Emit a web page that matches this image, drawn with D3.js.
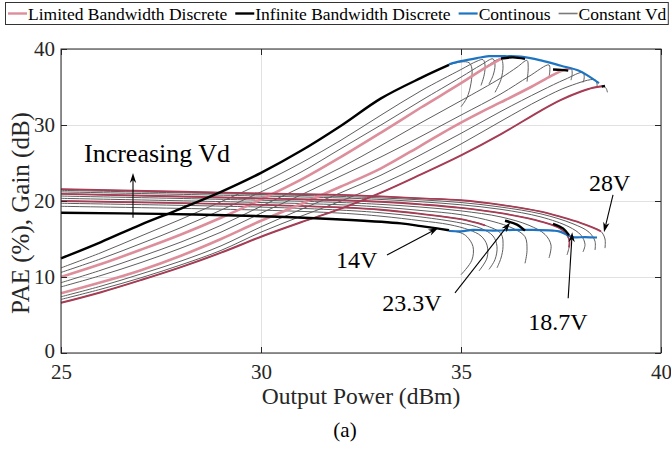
<!DOCTYPE html>
<html>
<head>
<meta charset="utf-8">
<script src="https://cdn.jsdelivr.net/npm/d3@7"></script>
<style>
  body { margin: 0; background: #fff; }
  svg { display: block; }
</style>
</head>
<body>
<div id="chart"></div>
<script>
// axis setup
const xDomain = [25, 40];
const yDomain = [0, 40];
const xTicks = [25, 30, 35, 40];
const yTicks = [0, 10, 20, 30, 40];

// PAE (%) vs output power (dBm), one curve per constant drain voltage
const pae14V = [[25,12.45],[26,14.6],[27,16.9],[28,19.0],[29,21.2],[30,23.7],[31,26.6],[32,29.9],[33,33.5],[34,36.2],[34.7,37.9],[35.0,38.3],[35.2,38.2],[35.27,37.5],[35.25,35.5],[35.15,33.6],[35.0,32.4]];
const pae15V6 = [[25,11.2],[26,13.2],[27,15.4],[28,17.6],[29,19.9],[30,22.3],[31,25.0],[32,28.0],[33,31.3],[34,34.5],[35,37.3],[35.4,38.4],[35.55,38.6],[35.6,37.9],[35.58,36.6],[35.5,35.2]];
const pae17V1 = [[25,10.6],[26,12.4],[27,14.4],[28,16.5],[29,18.8],[30,21.2],[31,23.8],[32,26.9],[33,30.0],[34,33.2],[35,36.3],[35.5,37.9],[35.8,38.7],[35.85,37.9],[35.8,36.5],[35.7,35.4]];
const pae18V7 = [[25,10.0],[26,11.7],[27,13.6],[28,15.6],[29,17.8],[30,20.2],[31,22.8],[32,25.8],[33,29.0],[34,32.3],[35,35.5],[35.5,37.2],[36.0,38.7],[36.05,37.8],[36.0,36.0],[35.85,34.3]];
const pae20V2 = [[25,9.25],[26,10.9],[27,12.7],[28,14.6],[29,16.8],[30,19.3],[31,21.8],[32,24.4],[33,27.3],[34,30.3],[35,33.2],[36,36.2],[36.4,37.6],[36.65,38.5],[36.68,37.6],[36.65,35.7]];
const pae21V8 = [[25,8.7],[26,10.2],[27,11.9],[28,13.8],[29,15.9],[30,18.4],[31,20.8],[32,23.3],[33,25.8],[34,28.5],[35,31.3],[36,34.1],[36.7,36.4],[37.2,37.9],[37.22,37.1],[37.2,36.3]];
const pae23V3 = [[25,7.85],[26,9.3],[27,10.9],[28,12.8],[29,15.0],[30,17.4],[31,19.6],[32,21.9],[33,24.3],[34,27.3],[34.75,29.6],[35.5,31.7],[36,33.0],[36.75,35.0],[37.2,36.3],[37.55,37.2],[37.75,37.45],[37.78,36.8],[37.75,35.9]];
const pae24V9 = [[25,7.4],[26,8.8],[27,10.4],[28,12.1],[29,14.1],[30,16.6],[31,18.9],[32,21.1],[33,23.4],[34,26.1],[35,28.9],[36,31.8],[37,34.5],[37.6,36.0],[38.05,36.9],[38.08,36.2],[38.05,35.6]];
const pae26V4 = [[25,7.05],[26,8.4],[27,9.9],[28,11.6],[29,13.5],[30,15.9],[31,18.0],[32,20.0],[33,22.2],[34,24.7],[35,27.5],[36,30.5],[37,33.4],[37.7,35.1],[38.35,35.95],[38.4,35.4],[38.4,35.0]];
const pae28V = [[25,6.6],[26,8.0],[27,9.6],[28,11.3],[29,13.2],[30,15.3],[31,17.2],[32,19.0],[33,21.1],[34,23.5],[35,26.0],[36,28.8],[37,31.9],[37.5,33.3],[38,34.4],[38.3,34.9],[38.55,35.1],[38.63,34.8],[38.66,34.3]];

// Gain (dB) vs output power (dBm), same drain voltages
const gain14V = [[25,18.45],[27.5,18.3],[30,18.0],[32.25,17.5],[33.5,17.05],[34,16.7],[34.4,16.4],[34.7,16.15],[35.0,15.8],[35.15,15.3],[35.3,14.0],[35.27,12.2],[35.0,10.3]];
const gain15V6 = [[25,19.3],[30,18.8],[32,18.4],[33,18.0],[34,17.4],[34.7,16.9],[35.2,16.2],[35.5,15.4],[35.65,14.2],[35.65,12.5],[35.45,10.8]];
const gain17V1 = [[25,19.7],[30,19.2],[32,18.8],[33,18.45],[34,17.9],[35,17.1],[35.5,16.4],[35.8,15.4],[35.9,14.0],[35.85,12.3],[35.7,11.0]];
const gain18V7 = [[25,20.0],[30,19.5],[32,19.15],[33,18.85],[34,18.3],[35,17.6],[35.6,16.8],[36.0,15.7],[36.05,14.0],[36.0,12.5],[35.9,11.2]];
const gain20V2 = [[25,20.35],[30,19.8],[32,19.5],[33,19.2],[34,18.75],[35,18.2],[35.8,17.3],[36.3,16.4],[36.6,15.3],[36.65,13.5],[36.6,11.8]];
const gain21V8 = [[25,20.65],[30,20.1],[32,19.8],[33,19.55],[34,19.2],[35,18.7],[36,17.9],[36.7,16.8],[37.1,15.6],[37.25,14.2],[37.2,12.5]];
const gain23V3 = [[25,20.95],[30,20.35],[32,20.1],[33,19.9],[34,19.55],[35,19.1],[36,18.4],[37,17.3],[37.5,16.3],[37.7,15.0],[37.7,13.9],[37.65,12.9]];
const gain24V9 = [[25,21.2],[30,20.65],[32,20.4],[33,20.2],[34,19.9],[35,19.5],[36,18.9],[37,17.9],[37.7,16.6],[38.0,15.5],[38.1,14.3],[38.05,13.3]];
const gain26V4 = [[25,21.4],[30,20.85],[32,20.6],[33,20.4],[34,20.15],[35,19.8],[36,19.2],[37,18.3],[37.8,17.0],[38.2,15.9],[38.35,14.7],[38.35,13.55]];
const gain28V = [[25,21.55],[30,21.0],[32,20.8],[33,20.6],[34,20.35],[35,20.1],[36,19.5],[37,18.6],[37.5,17.9],[38,17.1],[38.3,16.5],[38.5,16.0],[38.6,15.0],[38.6,13.8]];

const paeConstantVd = [pae14V, pae15V6, pae17V1, pae18V7, pae20V2, pae21V8, pae23V3, pae24V9, pae26V4, pae28V];
const gainConstantVd = [gain14V, gain15V6, gain17V1, gain18V7, gain20V2, gain21V8, gain23V3, gain24V9, gain26V4, gain28V];

// Limited bandwidth discrete supply levels: 18.7V, 23.3V, 28V (index into the lists above)
const limitedLevels = [3, 6, 9];

// Infinite bandwidth discrete: 14V branch plus two short pieces near saturation
const infinitePaeSegments = [
  [[36.0,38.75],[36.3,38.9],[36.6,38.7]],
  [[37.3,37.3],[37.5,37.25],[37.68,37.15]],
  [[38.52,35.05],[38.6,35.15]]
];
const infiniteGainSegments = [
  [[36.1,17.4],[36.4,16.9],[36.6,16.1]],
  [[37.3,17.0],[37.55,16.4],[37.7,15.5]]
];

// Continuous supply
const paeContinuous = [[34.7,38.0],[35.0,38.4],[35.4,38.8],[35.7,39.05],[36.1,39.05],[36.5,39.0],[37.0,38.5],[37.5,37.8],[37.95,37.15],[38.2,36.4],[38.45,35.5]];
const gainContinuous = [[34.7,16.05],[35.0,16.0],[35.3,16.2],[35.8,16.1],[36.3,16.2],[36.8,16.2],[37.3,16.1],[37.45,16.0],[37.8,15.25],[38.1,15.25],[38.4,15.2]];

// annotations: label, text anchor point, arrow from, arrow to (data units)
const voltLabels = ['14V', '23.3V', '18.7V', '28V'];
const voltTextAt = [[31.875, 11.2], [33.03, 5.5], [36.68, 3.0], [38.2, 21.3]];
const voltArrowFrom = [[33.15, 12.9], [34.85, 7.9], [37.68, 7.2], [38.8, 20.8]];
const voltArrowTo = [[34.43, 16.45], [36.23, 17.2], [37.78, 15.9], [38.575, 15.9]];

const legendLabels = ['Limited Bandwidth Discrete', 'Infinite Bandwidth Discrete', 'Continous', 'Constant Vd'];

const colors = {
  grey: '#5e5e5e',
  pink: '#dc8e9b',
  darkRed: '#a63d55',
  black: '#000000',
  blue: '#1d74c2',
  axis: '#262626',
  grid: '#e1e1e1'
};
const serif = "'Liberation Serif', 'Times New Roman', serif";

const W = 671, H = 449;
const margin = { top: 49, right: 10, bottom: 96, left: 61 };
const width = W - margin.left - margin.right;
const height = H - margin.top - margin.bottom;

const svg = d3.select('#chart').append('svg')
  .attr('width', W).attr('height', H)
  .attr('font-family', serif);
const g = svg.append('g').attr('transform', `translate(${margin.left},${margin.top})`);

const x = d3.scaleLinear().domain(xDomain).range([0, width]);
const y = d3.scaleLinear().domain(yDomain).range([height, 0]);

const line = d3.line()
  .x(d => x(d[0]))
  .y(d => y(d[1]))
  .curve(d3.curveCatmullRom.alpha(0.5));

// grid
g.append('g')
  .call(d3.axisLeft(y).tickValues(yTicks).tickSize(-width).tickFormat(''))
  .call(a => a.select('.domain').remove())
  .selectAll('line').attr('stroke', colors.grid);
g.append('g')
  .attr('transform', `translate(0,${height})`)
  .call(d3.axisBottom(x).tickValues(xTicks).tickSize(-height).tickFormat(''))
  .call(a => a.select('.domain').remove())
  .selectAll('line').attr('stroke', colors.grid);

const plot = g.append('g');

// up to the PAE peak of a curve (no hook)
function untilPeak(pts) {
  const iMax = d3.maxIndex(pts, d => d[1]);
  return pts.slice(0, iMax + 1);
}
function untilX(pts, xEnd) {
  const out = [];
  for (let i = 0; i < pts.length; i++) {
    if (pts[i][0] > xEnd + 1e-6) break;
    if (i > 0 && pts[i][0] < pts[i - 1][0]) break;
    out.push(pts[i]);
  }
  return out;
}

// constant Vd curves
paeConstantVd.concat(gainConstantVd).forEach(pts => {
  plot.append('path').attr('d', line(pts))
    .attr('fill', 'none').attr('stroke', colors.grey).attr('stroke-width', 1);
});

// limited bandwidth discrete
limitedLevels.forEach(k => {
  const paePart = untilPeak(paeConstantVd[k]);
  const peakX = paePart[paePart.length - 1][0];
  const gainPart = untilX(gainConstantVd[k], peakX - 0.04);
  plot.append('path').attr('d', line(paePart))
    .attr('fill', 'none').attr('stroke', k === 9 ? colors.darkRed : colors.pink)
    .attr('stroke-width', k === 9 ? 2 : 2.6);
  plot.append('path').attr('d', line(gainPart))
    .attr('fill', 'none').attr('stroke', colors.darkRed).attr('stroke-width', 1.8);
});

// continuous
[paeContinuous, gainContinuous].forEach(pts => {
  plot.append('path').attr('d', line(pts))
    .attr('fill', 'none').attr('stroke', colors.blue).attr('stroke-width', 2.2);
});

// infinite bandwidth discrete
const infPae = untilX(pae14V, 34.7);
const infGain = untilX(gain14V, 34.7);
[infPae, infGain].concat(infinitePaeSegments, infiniteGainSegments).forEach(pts => {
  plot.append('path').attr('d', line(pts))
    .attr('fill', 'none').attr('stroke', colors.black).attr('stroke-width', 2.4);
});

// arrows
function arrow(from, to) {
  const x0 = x(from[0]), y0 = y(from[1]), x1 = x(to[0]), y1 = y(to[1]);
  const ang = Math.atan2(y1 - y0, x1 - x0);
  const len = 10, hw = 3.2;
  g.append('line')
    .attr('x1', x0).attr('y1', y0)
    .attr('x2', x1 - Math.cos(ang) * len * 0.7).attr('y2', y1 - Math.sin(ang) * len * 0.7)
    .attr('stroke', '#000').attr('stroke-width', 1.1);
  const bx = x1 - Math.cos(ang) * len, by = y1 - Math.sin(ang) * len;
  const pts = [
    [x1, y1],
    [bx - Math.sin(ang) * hw, by + Math.cos(ang) * hw],
    [x1 - Math.cos(ang) * len * 0.7, y1 - Math.sin(ang) * len * 0.7],
    [bx + Math.sin(ang) * hw, by - Math.cos(ang) * hw]
  ];
  g.append('path').attr('d', 'M' + pts.map(p => p.join(',')).join('L') + 'Z').attr('fill', '#000');
}

voltLabels.forEach((lab, i) => {
  g.append('text')
    .attr('x', x(voltTextAt[i][0])).attr('y', y(voltTextAt[i][1]))
    .attr('font-size', 24).attr('fill', '#000')
    .text(lab);
  arrow(voltArrowFrom[i], voltArrowTo[i]);
});

// increasing Vd note
g.append('text')
  .attr('x', x(25.575)).attr('y', y(25.1))
  .attr('font-size', 26).attr('fill', '#000')
  .text('Increasing Vd');
arrow([26.8, 17.8], [26.8, 23.7]);

// axes box and ticks
g.append('rect').attr('width', width).attr('height', height)
  .attr('fill', 'none').attr('stroke', colors.axis).attr('stroke-width', 1);

const xAxis = g.append('g').attr('transform', `translate(0,${height})`)
  .call(d3.axisBottom(x).tickValues(xTicks).tickSize(-6).tickPadding(11).tickFormat(d3.format('d')));
const yAxis = g.append('g')
  .call(d3.axisLeft(y).tickValues(yTicks).tickSize(-6).tickPadding(6).tickFormat(d3.format('d')));
g.append('g').call(d3.axisTop(x).tickValues(xTicks).tickSize(-6).tickFormat(''));
g.append('g').attr('transform', `translate(${width},0)`)
  .call(d3.axisRight(y).tickValues(yTicks).tickSize(-6).tickFormat(''));

g.selectAll('.domain').remove();
g.selectAll('.tick line').filter(function () { return this.getAttribute('stroke') !== colors.grid; })
  .attr('stroke', colors.axis);
g.selectAll('.tick').attr('font-family', serif);
[xAxis, yAxis].forEach(a => a.selectAll('text')
  .attr('font-size', 21).attr('fill', colors.axis));
// keep "0" clear of "25"
yAxis.selectAll('.tick text').filter(d => d === 0).attr('dy', '0.22em');

// axis labels
g.append('text')
  .attr('x', width / 2).attr('y', height + 51)
  .attr('text-anchor', 'middle').attr('font-size', 23.5).attr('fill', colors.axis)
  .text('Output Power (dBm)');
g.append('text')
  .attr('transform', `translate(-32,${height / 2 + 12}) rotate(-90)`)
  .attr('text-anchor', 'middle').attr('font-size', 25).attr('fill', colors.axis)
  .text('PAE (%), Gain (dB)');
svg.append('text')
  .attr('x', 345).attr('y', 437)
  .attr('text-anchor', 'middle').attr('font-size', 21).attr('fill', '#000')
  .text('(a)');

// legend
const legendColors = [colors.pink, colors.black, colors.blue, '#7a7a7a'];
const legendWidths = [2.4, 2.4, 2.2, 1.6];
const legend = svg.append('g');
const legendBox = legend.append('rect')
  .attr('x', 5.5).attr('y', 2.5).attr('height', 22)
  .attr('fill', '#fff').attr('stroke', '#333').attr('stroke-width', 1);
let lx = 8;
legendLabels.forEach((lab, i) => {
  legend.append('line')
    .attr('x1', lx).attr('x2', lx + 19).attr('y1', 13.5).attr('y2', 13.5)
    .attr('stroke', legendColors[i]).attr('stroke-width', legendWidths[i]);
  const t = legend.append('text')
    .attr('x', lx + 20).attr('y', 20)
    .attr('font-size', 17.5).attr('fill', '#000')
    .text(lab);
  lx += 20 + t.node().getComputedTextLength() + 8;
});
legendBox.attr('width', lx - 8 + 2 - 5.5);
</script>
</body>
</html>
